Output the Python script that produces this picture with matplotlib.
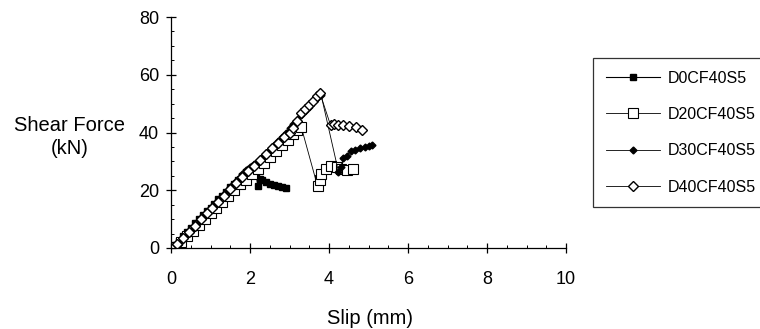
import matplotlib
matplotlib.use("Agg")
import matplotlib.pyplot as plt
from matplotlib.ticker import MultipleLocator

plt.rcParams['font.family'] = ['Liberation Sans', 'DejaVu Sans']

# slip (mm) and shear force (kN)
d0_x = [0.0, 0.05, 0.1, 0.2, 0.3, 0.4, 0.5, 0.6, 0.7, 0.8, 0.9, 1.0, 1.1, 1.2, 1.3,
        1.4, 1.5, 1.6, 1.7, 1.8, 1.9, 2.0, 2.1, 2.15, 2.2, 2.25, 2.3, 2.4, 2.5, 2.6,
        2.7, 2.8, 2.9]
d0_y = [0.0, 0.5, 1.0, 2.5, 4.0, 5.5, 7.0, 8.5, 10.0, 11.5, 12.8, 14.0, 15.3, 16.8, 18.0,
        19.5, 21.0, 22.0, 23.5, 25.0, 26.2, 27.5, 28.5, 26.0, 21.5, 23.8, 23.5, 22.8, 22.3, 21.8,
        21.4, 21.0, 20.8]

d20_x = [0.0, 0.1, 0.25, 0.4, 0.55, 0.7, 0.85, 1.0, 1.15, 1.3, 1.45, 1.6, 1.75, 1.9,
         2.05, 2.2, 2.35, 2.5, 2.65, 2.8, 2.95, 3.1, 3.2, 3.3, 3.71, 3.77, 3.81, 3.92,
         4.04, 4.19, 4.31, 4.45, 4.6]
d20_y = [0.0, 0.5, 2.0, 4.0, 6.0, 8.0, 10.0, 12.0, 14.0, 16.0, 18.0, 20.0, 22.0, 23.5,
         25.5, 27.5, 29.5, 31.5, 33.5, 35.5, 37.5, 39.5, 40.8, 41.8, 21.4, 23.5, 25.5, 27.2,
         28.4, 27.9, 27.3, 27.0, 27.3]

d30_x = [0.0, 0.1, 0.2, 0.3, 0.4, 0.5, 0.6, 0.7, 0.8, 0.9, 1.0, 1.1, 1.2, 1.3, 1.4,
         1.5, 1.6, 1.7, 1.8, 1.9, 2.0, 2.1, 2.2, 2.3, 2.4, 2.5, 2.6, 2.7, 2.8, 2.9,
         3.0, 3.1, 3.2, 3.3, 3.4, 3.5, 3.6, 3.7, 3.8, 4.24, 4.3, 4.36, 4.45, 4.55,
         4.65, 4.78, 4.9, 5.0, 5.1]
d30_y = [0.0, 0.5, 1.5, 3.0, 4.5, 6.0, 7.5, 9.0, 10.5, 12.0, 13.5, 15.0, 16.5, 18.0, 19.5,
         21.0, 22.5, 24.0, 25.5, 27.0, 28.0, 29.0, 30.0, 31.5, 33.0, 34.0, 35.5, 37.0, 38.5, 40.0,
         41.5, 43.0, 44.5, 46.0, 47.5, 49.0, 50.5, 52.0, 53.0, 26.4, 28.0, 31.0, 32.0, 33.5,
         34.0, 34.5, 35.0, 35.3, 35.5]

d40_x = [0.0, 0.15, 0.3, 0.45, 0.6, 0.75, 0.9, 1.05, 1.2, 1.35, 1.5, 1.65, 1.8, 1.95,
         2.1, 2.25, 2.4, 2.55, 2.7, 2.85, 3.0, 3.1, 3.2, 3.3, 3.4, 3.5, 3.6, 3.7, 3.77,
         4.04, 4.12, 4.22, 4.35, 4.5, 4.68, 4.83]
d40_y = [0.0, 1.5, 3.5, 5.5, 7.5, 10.0, 12.0, 14.0, 16.0, 18.0, 20.5, 22.5, 24.5, 26.5,
         28.5, 30.5, 32.5, 34.5, 36.5, 38.5, 40.0, 41.4, 44.0, 46.8, 48.0, 49.5, 51.0, 52.5, 53.7,
         42.5, 42.8, 42.6, 42.5, 42.3, 41.8, 41.0]

fig = plt.figure(figsize=(7.6, 3.29), dpi=100)
ax = fig.add_axes([171 / 760, 1 - 248 / 329, 395 / 760, 231 / 329])

ax.plot(d0_x, d0_y, color='black', lw=0.8, marker='s', ms=5, mfc='black', mec='black',
        label='D0CF40S5')
ax.plot(d20_x, d20_y, color='black', lw=0.6, marker='s', ms=6.5, mfc='white', mec='black',
        mew=0.8, label='D20CF40S5')
ax.plot(d30_x, d30_y, color='black', lw=0.6, marker='D', ms=3.5, mfc='black', mec='black',
        label='D30CF40S5')
ax.plot(d40_x, d40_y, color='black', lw=0.6, marker='D', ms=5.5, mfc='white', mec='black',
        mew=1.0, label='D40CF40S5')

ax.set_xlim(0, 10)
ax.set_ylim(0, 80)
ax.xaxis.set_major_locator(MultipleLocator(2))
ax.xaxis.set_minor_locator(MultipleLocator(0.5))
ax.yaxis.set_major_locator(MultipleLocator(20))
ax.yaxis.set_minor_locator(MultipleLocator(5))
ax.tick_params(which='major', direction='inout', length=7, width=0.9, labelsize=13)
ax.tick_params(axis='x', which='major', pad=13)
ax.tick_params(axis='y', which='major', pad=5)
ax.tick_params(which='minor', direction='in', length=2.5, width=0.7)
ax.spines['top'].set_visible(False)
ax.spines['right'].set_visible(False)
for s in ('left', 'bottom'):
    ax.spines[s].set_linewidth(0.9)

fig.text(70 / 760, 1 - 137 / 329, 'Shear Force\n(kN)', ha='center', va='center',
         fontsize=14.5, linespacing=1.3)
fig.text(370 / 760, 1 - 318 / 329, 'Slip (mm)', ha='center', va='center', fontsize=14.5)

leg = fig.legend(loc='upper left', bbox_to_anchor=(593 / 760, 1 - 58 / 329, 0.3, 0),
                 mode='expand', fontsize=11.5, frameon=True, fancybox=False, edgecolor='black',
                 handlelength=3.4, handletextpad=0.45, labelspacing=1.33, borderpad=0.8,
                 borderaxespad=0)
leg.get_frame().set_linewidth(0.9)

fig.savefig('out.png', dpi=100)
